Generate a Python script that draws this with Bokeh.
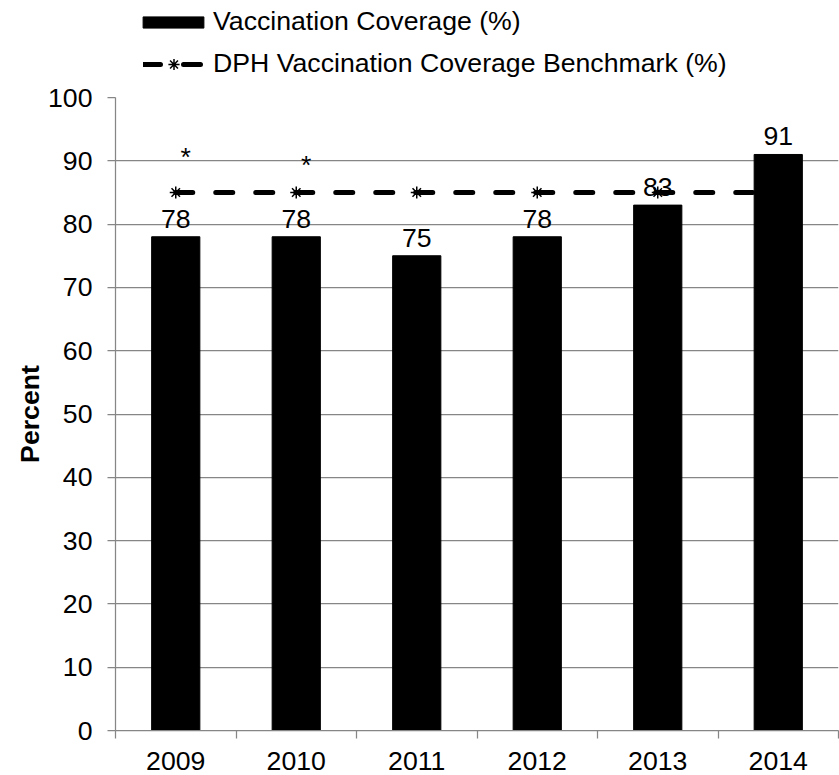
import numpy as np
from bokeh.plotting import figure
from bokeh.layouts import column
from bokeh.models import Range1d, FixedTicker, Legend, LegendItem, ColumnDataSource
from bokeh.core.properties import value
from bokeh.embed import file_html
from bokeh.resources import INLINE

# ---- data ----
years = ["2009", "2010", "2011", "2012", "2013", "2014"]
coverage = [78, 78, 75, 78, 83, 91]
benchmark = [85, 85, 85, 85, 85, 85]
y_ticks = [0, 10, 20, 30, 40, 50, 60, 70, 80, 90, 100]
star_years = ["2009", "2010"]
star_levels = [90.6, 89.4]
bar_label = "Vaccination Coverage (%)"
line_label = "DPH Vaccination Coverage Benchmark (%)"

FONT = "Liberation Sans"
FS = "20pt"
GRID = "#868686"
W = 839
BL, BR = 115, 1
FRAME_W = W - BL - BR
LH = 81           # legend strip height
PH = 775 - LH     # chart height

BAR_STYLE = dict(fill_color="black", line_color="black")
LINE_STYLE = dict(line_color="black", line_width=5, line_dash="17 23", line_cap="round")
PT_STYLE = dict(marker="asterisk", size=12, line_color="black", line_width=1.5)

pos = [i + 0.5 for i in range(len(years))]
src = ColumnDataSource(dict(x=pos, year=years, cov=coverage, bench=benchmark,
                            lab=[str(v) for v in coverage]))

# ---- main chart ----
p = figure(width=W, height=PH, output_backend="svg", toolbar_location=None,
           x_range=Range1d(0, len(years)), y_range=Range1d(0, 100),
           min_border_left=BL, min_border_right=BR, min_border_top=16, min_border_bottom=45)
p.outline_line_color = None
p.background_fill_color = "white"
p.border_fill_color = "white"

p.vbar(x="x", top="cov", width=0.4, bottom=0, source=src, **BAR_STYLE)
p.line(x="x", y="bench", source=src, **LINE_STYLE)
p.scatter(x="x", y="bench", source=src, **PT_STYLE)
p.text(x="x", y="cov", text="lab", source=src, text_align="center",
       text_baseline="alphabetic", y_offset=-18, text_font=value(FONT),
       text_font_size=FS, text_color="black")

star_x = [pos[years.index(y)] for y in star_years]
p.text(x=star_x, y=star_levels, text=["*"] * len(star_x), x_offset=10,
       text_align="center", text_baseline="alphabetic", text_font=value(FONT),
       text_font_size=FS, text_color="black")

xa = p.xaxis[0]
xa.ticker = FixedTicker(ticks=pos, minor_ticks=list(range(len(years) + 1)))
xa.major_label_overrides = {pos[i]: years[i] for i in range(len(years))}
xa.major_tick_out = 0
xa.major_tick_in = 0
xa.major_tick_line_color = None
xa.minor_tick_out = 8
xa.minor_tick_in = 0
xa.minor_tick_line_color = GRID
xa.minor_tick_line_width = 1.25
xa.axis_line_color = GRID
xa.axis_line_width = 1.25
xa.major_label_standoff = 13
xa.major_label_text_font = FONT
xa.major_label_text_font_size = FS
xa.major_label_text_color = "black"

ya = p.yaxis[0]
ya.ticker = FixedTicker(ticks=y_ticks)
ya.major_tick_out = 8
ya.major_tick_in = 0
ya.major_tick_line_color = GRID
ya.major_tick_line_width = 1.25
ya.minor_tick_line_color = None
ya.axis_line_color = GRID
ya.axis_line_width = 1.25
ya.major_label_standoff = 15
ya.major_label_text_font = FONT
ya.major_label_text_font_size = FS
ya.major_label_text_color = "black"
ya.axis_label = "Percent"
ya.axis_label_standoff = 0
ya.axis_label_text_font = FONT
ya.axis_label_text_font_size = FS
ya.axis_label_text_font_style = "bold"
ya.axis_label_text_color = "black"

p.xgrid.grid_line_color = None
p.ygrid.ticker = FixedTicker(ticks=y_ticks)
p.ygrid.grid_line_color = GRID
p.ygrid.grid_line_width = 1.25

# ---- legend strip above the chart ----
lf = figure(width=W, height=LH, output_backend="svg", toolbar_location=None,
            x_range=Range1d(0, FRAME_W), y_range=Range1d(0, LH),
            x_axis_type=None, y_axis_type=None,
            min_border_left=BL, min_border_right=BR, min_border_top=0, min_border_bottom=0)
lf.outline_line_color = None
lf.xgrid.visible = False
lf.ygrid.visible = False
lf.border_fill_color = "white"

nan1 = [np.nan]
bar_proxy = lf.vbar(x=nan1, top=nan1, width=1, **BAR_STYLE)
line_proxy = lf.line(x=nan1, y=nan1, **LINE_STYLE)
pt_proxy = lf.scatter(x=nan1, y=nan1, **PT_STYLE)

common = dict(padding=0, spacing=0, margin=0, border_line_color=None,
              background_fill_alpha=0, label_text_font=FONT, label_text_font_size=FS,
              label_text_color="black")
leg1 = Legend(items=[LegendItem(label=bar_label, renderers=[bar_proxy])],
              location=(20, 44), glyph_width=76, glyph_height=14, label_standoff=2, **common)
leg2 = Legend(items=[LegendItem(label=line_label, renderers=[line_proxy, pt_proxy])],
              location=(28, 2), glyph_width=61, glyph_height=28, label_standoff=9, **common)
lf.add_layout(leg1)
lf.add_layout(leg2)

layout = column(lf, p, spacing=0)
open("out.html", "w").write(file_html(layout, INLINE))
